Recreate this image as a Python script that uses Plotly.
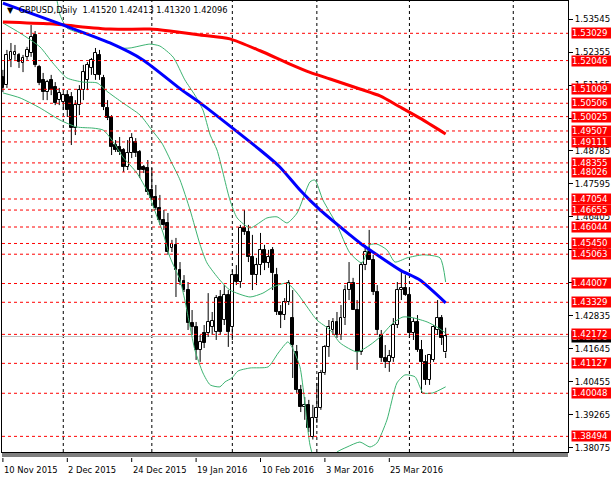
import plotly.graph_objects as go

# ---------------- data ----------------
open_ = [1.5145,1.5116,1.5207,1.5225,1.5225,1.5196,1.5218,1.5232,1.5297,1.5181,
         1.5135,1.5091,1.5135,1.5109,1.5062,1.5055,1.5080,1.5073,1.4961,1.5044,
         1.5098,1.5135,1.5178,1.5153,1.5225,1.5142,1.5034,1.5001,1.4900,1.4893,
         1.4882,1.4821,1.4871,1.4911,1.4875,1.4821,1.4817,1.4738,1.4713,1.4673,
         1.4630,1.4619,1.4529,1.4540,1.4449,1.4410,1.4377,1.4258,1.4244,1.4161,
         1.4222,1.4222,1.4244,1.4226,1.4352,1.4269,1.4359,1.4244,1.4431,1.4406,
         1.4601,1.4586,1.4496,1.4431,1.4467,1.4522,1.4475,1.4522,1.4431,1.4298,
         1.4287,1.4334,1.4276,1.4154,1.4017,1.3955,1.3963,1.3847,1.3916,1.3952,
         1.4078,1.4172,1.4233,1.4262,1.4215,1.4276,1.4377,1.4403,1.4305,1.4154,
         1.4467,1.4514,1.4485,1.4370,1.4215,1.4132,1.4118,1.4132,1.4251,1.4377,
         1.4385,1.4359,1.4222,1.4262,1.4161,1.4118,1.4053,1.4125,1.4233,1.4276,
         1.41520]
high = [1.5171,1.5243,1.5268,1.5261,1.5232,1.5225,1.5254,1.5333,1.5311,1.5189,
        1.5160,1.5135,1.5153,1.5127,1.5106,1.5091,1.5098,1.5091,1.5062,1.5116,
        1.5189,1.5199,1.5214,1.5250,1.5243,1.5153,1.5062,1.5008,1.4918,1.4929,
        1.4889,1.4918,1.4943,1.4925,1.4882,1.4828,1.4846,1.4817,1.4756,1.4720,
        1.4666,1.4655,1.4558,1.4565,1.4478,1.4431,1.4406,1.4305,1.4262,1.4215,
        1.4251,1.4366,1.4298,1.4359,1.4377,1.4395,1.4377,1.4449,1.4467,1.4612,
        1.4666,1.4612,1.4576,1.4493,1.4583,1.4540,1.4522,1.4532,1.4457,1.4323,
        1.4348,1.4413,1.4377,1.4179,1.4035,1.3991,1.3981,1.3963,1.4042,1.4089,
        1.4179,1.4269,1.4276,1.4298,1.4323,1.4395,1.4478,1.4421,1.4341,1.4478,
        1.4540,1.4594,1.4504,1.4395,1.4233,1.4179,1.4161,1.4276,1.4406,1.4449,
        1.4431,1.4385,1.4276,1.4287,1.4197,1.4143,1.4143,1.4251,1.4341,1.4287,
        1.42413]
low = [1.5091,1.5106,1.5181,1.5207,1.5178,1.5163,1.5207,1.5218,1.5181,1.5116,
       1.5062,1.5062,1.5080,1.5044,1.5044,1.5026,1.5001,1.4900,1.4936,1.5008,
       1.5062,1.5098,1.5153,1.5135,1.5135,1.5026,1.4990,1.4864,1.4875,1.4864,
       1.4803,1.4810,1.4853,1.4857,1.4781,1.4799,1.4720,1.4702,1.4666,1.4612,
       1.4594,1.4504,1.4514,1.4352,1.4395,1.4370,1.4233,1.4215,1.4125,1.4118,
       1.4168,1.4208,1.4215,1.4197,1.4215,1.4251,1.4172,1.4197,1.4395,1.4385,
       1.4576,1.4478,1.4377,1.4395,1.4431,1.4449,1.4457,1.4377,1.4287,1.4240,
       1.4269,1.4323,1.4060,1.4006,1.3937,1.3909,1.3865,1.3838,1.3898,1.3945,
       1.4071,1.4136,1.4215,1.4204,1.4197,1.4251,1.4341,1.4305,1.4089,1.4143,
       1.4449,1.4485,1.4359,1.4215,1.4118,1.4096,1.4082,1.4118,1.4240,1.4341,
       1.4356,1.4204,1.4197,1.4154,1.4006,1.4035,1.4035,1.4118,1.4215,1.4179,
       1.41320]
close = [1.5106,1.5225,1.5236,1.5236,1.5199,1.5214,1.5243,1.5290,1.5189,1.5124,
         1.5091,1.5127,1.5098,1.5052,1.5088,1.5080,1.5026,1.4961,1.5044,1.5098,
         1.5163,1.5189,1.5207,1.5232,1.5153,1.5037,1.4997,1.4893,1.4882,1.4875,
         1.4821,1.4871,1.4925,1.4871,1.4810,1.4810,1.4731,1.4709,1.4673,1.4630,
         1.4612,1.4514,1.4543,1.4449,1.4406,1.4377,1.4258,1.4244,1.4161,1.4190,
         1.4186,1.4262,1.4266,1.4348,1.4226,1.4359,1.4226,1.4431,1.4406,1.4601,
         1.4586,1.4496,1.4431,1.4467,1.4522,1.4475,1.4496,1.4439,1.4298,1.4287,
         1.4334,1.4403,1.4179,1.4017,1.3955,1.3963,1.3880,1.3916,1.3952,1.4078,
         1.4172,1.4244,1.4262,1.4215,1.4276,1.4377,1.4403,1.4305,1.4154,1.4467,
         1.4514,1.4485,1.4370,1.4233,1.4132,1.4118,1.4139,1.4251,1.4377,1.4385,
         1.4359,1.4222,1.4262,1.4161,1.4118,1.4053,1.4143,1.4244,1.4276,1.4204,
         1.42096]

# moving averages / bands: (bar index, price)
ma_blue_x = [0, 14.9, 26.6, 34.8, 44.5, 49.0, 63.9, 68.8, 73.8, 78.8, 86.2, 88.7, 98.7, 103.6, 110]
ma_blue_y = [1.5412, 1.5333, 1.5268, 1.5207, 1.5098, 1.5052, 1.4882, 1.4821, 1.4738, 1.4666,
             1.4576, 1.4547, 1.4449, 1.4413, 1.4331]
ma_red_x = [0, 11.7, 26.6, 36.5, 41.5, 49.0, 56.4, 63.9, 71.3, 76.3, 81.3, 88.7, 93.7, 98.7, 103.6, 110]
ma_red_y = [1.5344, 1.5337, 1.5318, 1.5318, 1.5311, 1.5297, 1.5283, 1.5240, 1.5192, 1.5162,
            1.5138, 1.5102, 1.5077, 1.5037, 1.4997, 1.4940]
bb_up_x = [12.2, 13.4, 14.2, 15.9, 19.2, 21.6, 26.6, 29.1, 31.6, 36.5, 39.0, 42.3, 45.2, 47.7,
           49.7, 51.5, 53.2, 56.4, 58.2, 61.4, 65.6, 68.1, 70.6, 73.1, 76.3, 77.5, 79.5, 83.0,
           86.2, 89.2, 91.2, 92.9, 95.4, 97.4, 100.4, 104.4, 108.6, 110]
bb_up_y = [1.5477, 1.5423, 1.5369, 1.5322, 1.5304, 1.5297, 1.5268, 1.5250, 1.5250, 1.5264,
           1.5257, 1.5217, 1.5135, 1.5080, 1.5026, 1.4936, 1.4882, 1.4702, 1.4637, 1.4601,
           1.4637, 1.4641, 1.4619, 1.4655, 1.4767, 1.4774, 1.4702, 1.4612, 1.4511, 1.4475,
           1.4540, 1.4543, 1.4522, 1.4478, 1.4493, 1.4504, 1.4493, 1.4406]
bb_mid_x = [0, 4.25, 9.2, 12.4, 15.9, 19.9, 23.4, 26.1, 29.8, 34.1, 37.0, 39.5, 42.0, 44.0, 46.5,
            49.0, 50.7, 53.9, 56.4, 61.4, 64.6, 67.1, 70.6, 73.1, 75.6, 78.0, 81.3, 83.8, 88.0,
            91.2, 93.7, 96.9, 99.4, 101.9, 105.4, 107.8, 110]
bb_mid_y = [1.5340, 1.5304, 1.5254, 1.5196, 1.5142, 1.5127, 1.5124, 1.5091, 1.5052, 1.5008,
            1.4954, 1.4907, 1.4834, 1.4774, 1.4666, 1.4540, 1.4475, 1.4413, 1.4377, 1.4352,
            1.4366, 1.4388, 1.4402, 1.4366, 1.4316, 1.4269, 1.4233, 1.4186, 1.4154, 1.4179,
            1.4208, 1.4258, 1.4280, 1.4277, 1.4262, 1.4244, 1.4222]
bb_lo_x = [0, 4.25, 9.2, 14.2, 18.4, 22.4, 24.9, 27.1, 29.8, 33.3, 36.1, 38.3, 39.8, 41.5, 44.0,
           45.2, 46.5, 47.7, 49.7, 51.5, 53.9, 55.2, 56.9, 58.4, 61.4, 65.9, 68.4, 70.8, 71.8,
           73.8, 76.3, 77.5, 80.0, 83.0, 85.5, 88.7, 91.2, 92.9, 95.4, 97.9, 99.9, 102.4, 103.6,
           104.4, 106.8, 110]
bb_lo_y = [1.5088, 1.5070, 1.5034, 1.4990, 1.4965, 1.4961, 1.4954, 1.4918, 1.4857, 1.4799,
           1.4727, 1.4641, 1.4583, 1.4496, 1.4413, 1.4341, 1.4244, 1.4161, 1.4078, 1.4035,
           1.4028, 1.4046, 1.4060, 1.4085, 1.4096, 1.4100, 1.4150, 1.4190, 1.4172, 1.4100,
           1.3818, 1.3764, 1.3746, 1.3793, 1.3811, 1.3829, 1.3811, 1.3825, 1.3908, 1.4042,
           1.4071, 1.4064, 1.4028, 1.4006, 1.4006, 1.4028]

levels = [1.53029, 1.52046, 1.51009, 1.50506, 1.50025, 1.49507, 1.49111, 1.48355, 1.48026,
          1.47054, 1.46655, 1.46044, 1.45450, 1.45063, 1.44007, 1.43329, 1.42172, 1.41127,
          1.40048, 1.38494]
price_ticks = [1.53545, 1.52355, 1.51165, 1.49975, 1.48785, 1.47595, 1.46405, 1.45215,
               1.44025, 1.42835, 1.41645, 1.40455, 1.39265, 1.38075]
bid = 1.42096
date_idx = [0, 16, 32, 48, 64, 80, 96]
date_labels = ["10 Nov 2015", "2 Dec 2015", "24 Dec 2015", "19 Jan 2016",
               "10 Feb 2016", "3 Mar 2016", "25 Mar 2016"]
month_grid_idx = [15, 37, 57, 78, 101, 126.8]
title_text = "GBPUSD,Daily\u00a0\u00a01.41520 1.42413 1.41320 1.42096"

# ---------------- figure ----------------
W, H = 611, 481
ML, MR, MT, MB = 2, 43, 1, 29
PW, PH = W - ML - MR, H - MT - MB
FONT = "DejaVu Sans"

n = len(open_)
idx = list(range(n))
bull = [i for i in idx if close[i] >= open_[i]]
bear = [i for i in idx if close[i] < open_[i]]

fig = go.Figure()

wx, wy = [], []
for i in idx:
    top = max(open_[i], close[i]); bot = min(open_[i], close[i])
    wx += [i, i, None, i, i, None]
    wy += [high[i], top, None, bot, low[i], None]
fig.add_trace(go.Scatter(x=wx, y=wy, mode="lines", line=dict(color="black", width=1),
                         hoverinfo="skip"))

for sel, col in ((bull, "white"), (bear, "black")):
    fig.add_trace(go.Bar(
        x=sel,
        y=[abs(close[i] - open_[i]) for i in sel],
        base=[min(close[i], open_[i]) for i in sel],
        width=0.72,
        marker=dict(color=col, line=dict(color="black", width=1)),
        hoverinfo="skip"))

bb_col = "#3CB371"
for xs, ys in ((bb_up_x, bb_up_y), (bb_mid_x, bb_mid_y), (bb_lo_x, bb_lo_y)):
    fig.add_trace(go.Scatter(x=xs, y=ys, mode="lines",
                             line=dict(color=bb_col, width=1, shape="spline", smoothing=0.6),
                             hoverinfo="skip"))
fig.add_trace(go.Scatter(x=ma_red_x, y=ma_red_y, mode="lines",
                         line=dict(color="#FF0000", width=3, shape="spline", smoothing=0.6), hoverinfo="skip"))
fig.add_trace(go.Scatter(x=ma_blue_x, y=ma_blue_y, mode="lines",
                         line=dict(color="#0000FF", width=3, shape="spline", smoothing=0.6), hoverinfo="skip"))

shapes = []
for v in month_grid_idx:
    shapes.append(dict(type="line", xref="x", yref="paper", x0=v, x1=v, y0=0, y1=1,
                       line=dict(color="black", width=1, dash="3px,3px"), layer="below"))
shapes.append(dict(type="line", xref="paper", yref="y", x0=0, x1=1, y0=bid, y1=bid,
                   line=dict(color="#C0C0C0", width=1), layer="below"))
for lv in levels:
    shapes.append(dict(type="line", xref="paper", yref="y", x0=0, x1=1, y0=lv, y1=lv,
                       line=dict(color="#FF0000", width=1, dash="3px,3px"), layer="above"))
for off in (2, 4):
    shapes.append(dict(type="line", xref="paper", yref="paper", x0=0, x1=1,
                       y0=-off / PH, y1=-off / PH, line=dict(color="black", width=1)))
for d in date_idx:
    shapes.append(dict(type="line", xref="x", yref="paper", x0=d, x1=d,
                       y0=-6 / PH, y1=-10 / PH, line=dict(color="black", width=1)))

ann = []
for d, t in zip(date_idx, date_labels):
    ann.append(dict(x=d, xref="x", y=-18 / PH, yref="paper", text=t, showarrow=False,
                    xanchor="left", yanchor="middle", xshift=-1,
                    font=dict(family=FONT, size=8.4, color="black")))
ann.append(dict(x=1, xref="paper", y=bid, yref="y", text=f"{bid:.5f}", showarrow=False,
                xanchor="left", yanchor="middle", xshift=3, bgcolor="black", borderpad=0,
                width=40, height=11, align="left",
                font=dict(family=FONT, size=8.6, color="white")))
for lv in levels:
    ann.append(dict(x=1, xref="paper", y=lv, yref="y", text=f"{lv:.5f}", showarrow=False,
                    xanchor="left", yanchor="middle", xshift=3, bgcolor="#FF0000", borderpad=0,
                    width=40, height=10, align="left",
                    font=dict(family=FONT, size=8.6, color="white")))
ann.append(dict(x=(5 - ML) / PW, xref="paper", y=(PH - (10 - MT)) / PH, yref="paper",
                text="\u25BC\u00a0\u00a0" + title_text, showarrow=False, xanchor="left",
                yanchor="middle", font=dict(family=FONT, size=8.3, color="black")))

x0px = 2.9; bar_px = 4.025
x_rng = [(ML - x0px) / bar_px, (ML + PW - x0px) / bar_px]
p_ref, y_ref, px_per = 1.53545, 19.0, 2773.0
y_rng = [p_ref - (MT + PH - y_ref) / px_per, p_ref + (y_ref - MT) / px_per]

fig.update_layout(
    width=W, height=H, margin=dict(l=ML, r=MR, t=MT, b=MB, autoexpand=False),
    paper_bgcolor="white", plot_bgcolor="white", showlegend=False,
    barmode="overlay", bargap=0, shapes=shapes, annotations=ann,
    xaxis=dict(range=x_rng, showgrid=False, zeroline=False, showticklabels=False,
               showline=True, linecolor="black", linewidth=1, mirror=True, ticks="",
               fixedrange=True, automargin=False),
    yaxis=dict(range=y_rng, side="right", tickvals=price_ticks, tickformat=".5f",
               ticks="outside", ticklen=4, tickcolor="black", showgrid=False, zeroline=False,
               showline=True, linecolor="black", linewidth=1, mirror=True, automargin=False,
               tickfont=dict(family=FONT, size=8.6, color="black"), fixedrange=True),
)
fig.write_html("out.html", config={"displayModeBar": False},
               post_script="document.body.style.margin='0';document.body.style.overflow='hidden';")
